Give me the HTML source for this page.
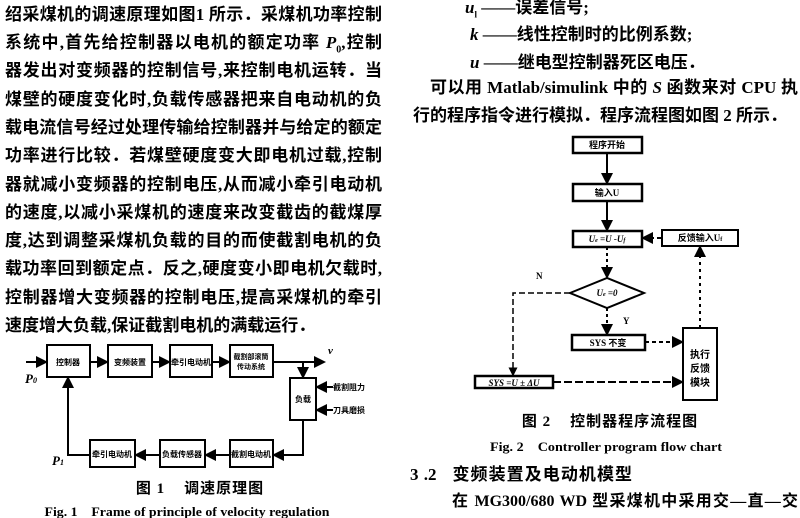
<!DOCTYPE html>
<html><head><meta charset="utf-8"><style>
html,body{margin:0;padding:0;background:#fff;}
body{width:800px;height:518px;position:relative;overflow:hidden;font-family:"Liberation Serif","Noto Serif CJK SC","Noto Sans CJK SC",serif;color:#000;}
.l{position:absolute;left:5px;width:377px;font-size:17px;font-weight:bold;line-height:20px;white-space:nowrap;text-align:justify;text-align-last:justify;font-family:"Liberation Serif","Noto Sans CJK SC",sans-serif;}
.t{position:absolute;font-size:17px;font-weight:bold;line-height:20px;white-space:nowrap;font-family:"Liberation Serif","Noto Sans CJK SC",sans-serif;}
svg{position:absolute;left:0;top:0;}
svg text{font-family:"Liberation Serif","Noto Sans CJK SC",sans-serif;font-weight:bold;}
</style></head><body>
<div class="l" style="top:5px">绍采煤机的调速原理如图1 所示．采煤机功率控制</div>
<div class="l" style="top:33px">系统中,首先给控制器以电机的额定功率 <i>P</i><sub style="font-size:10px">0</sub>,控制</div>
<div class="l" style="top:61px">器发出对变频器的控制信号,来控制电机运转．当</div>
<div class="l" style="top:90px">煤壁的硬度变化时,负载传感器把来自电动机的负</div>
<div class="l" style="top:118px">载电流信号经过处理传输给控制器并与给定的额定</div>
<div class="l" style="top:146px">功率进行比较．若煤壁硬度变大即电机过载,控制</div>
<div class="l" style="top:175px">器就减小变频器的控制电压,从而减小牵引电动机</div>
<div class="l" style="top:203px">的速度,以减小采煤机的速度来改变截齿的截煤厚</div>
<div class="l" style="top:231px">度,达到调整采煤机负载的目的而使截割电机的负</div>
<div class="l" style="top:259px">载功率回到额定点．反之,硬度变小即电机欠载时,</div>
<div class="l" style="top:288px">控制器增大变频器的控制电压,提高采煤机的牵引</div>
<div class="l" style="top:316px;width:303px">速度增大负载,保证截割电机的满载运行．</div>

<div class="t" style="top:-2px;left:465px"><i>u</i><sub style="font-size:9px">l</sub> ——误差信号;</div>
<div class="t" style="top:25px;left:470px"><i>k</i> ——线性控制时的比例系数;</div>
<div class="t" style="top:53px;left:470px"><i>u</i> ——继电型控制器死区电压．</div>
<div class="t" style="top:78px;left:430px;width:368px;text-align:justify;text-align-last:justify">可以用 Matlab/simulink 中的 <i>S</i> 函数来对 CPU 执</div>
<div class="t" style="top:106px;left:413px;width:357px;text-align:justify;text-align-last:justify">行的程序指令进行模拟．程序流程图如图 2 所示．</div>

<div class="t" style="top:465px;left:410px;width:222px;text-align:justify;text-align-last:justify">3 .2 &nbsp; 变频装置及电动机模型</div>
<div class="t" style="top:492px;left:452px;width:346px;text-align:justify;text-align-last:justify;font-size:16px">在 MG300/680 WD 型采煤机中采用交—直—交</div>

<svg width="800" height="518" viewBox="0 0 800 518">
<defs><marker id="a" markerWidth="6" markerHeight="6" refX="5" refY="3" orient="auto"><path d="M0,0L6,3L0,6z" fill="#000"/></marker></defs>
<g stroke="#000" stroke-width="2" fill="none">
<rect x="47" y="345" width="43" height="32"/>
<rect x="108" y="345" width="44" height="32"/>
<rect x="170" y="345" width="42" height="32"/>
<rect x="230" y="345" width="43" height="32"/>
<rect x="290" y="378" width="26" height="42"/>
<rect x="90" y="440" width="45" height="27"/>
<rect x="160" y="440" width="45" height="27"/>
<rect x="230" y="440" width="43" height="27"/>
<path d="M26 362H46" marker-end="url(#a)"/>
<path d="M90 362H107" marker-end="url(#a)"/>
<path d="M152 362H169" marker-end="url(#a)"/>
<path d="M212 362H229" marker-end="url(#a)"/>
<path d="M273 362H324" marker-end="url(#a)"/>
<path d="M303 362V377" marker-end="url(#a)"/>
<path d="M333 387H317" marker-end="url(#a)"/>
<path d="M333 410H317" marker-end="url(#a)"/>
<path d="M303 420V455H274" marker-end="url(#a)"/>
<path d="M230 455H206" marker-end="url(#a)"/>
<path d="M160 455H136" marker-end="url(#a)"/>
<path d="M90 455H68V378" marker-end="url(#a)"/>
<rect x="573" y="137" width="69" height="16" stroke-width="2.5"/>
<rect x="573" y="184" width="69" height="17" stroke-width="2.5"/>
<rect x="573" y="231" width="69" height="16" stroke-width="2.5"/>
<rect x="662" y="230" width="76" height="16"/>
<path d="M570 293L607 278L644 293L607 308Z"/>
<rect x="572" y="335" width="73" height="15" stroke-width="2.5"/>
<rect x="475" y="376" width="78" height="12" stroke-width="2.5"/>
<rect x="683" y="328" width="34" height="72"/>
<path d="M607 153V183" marker-end="url(#a)"/>
<path d="M607 201V230" marker-end="url(#a)"/>
<path d="M607 247V277" stroke-dasharray="3 3" marker-end="url(#a)"/>
<path d="M607 308V334" stroke-dasharray="3 3" marker-end="url(#a)"/>
<path d="M661 238H643" stroke-dasharray="4 3" marker-end="url(#a)"/>
<path d="M570 293H513V375" stroke-dasharray="6 3" stroke-width="1.5" marker-end="url(#a)"/>
<path d="M645 342H682" stroke-dasharray="4 3" marker-end="url(#a)"/>
<path d="M553 382H682" stroke-dasharray="8 3" marker-end="url(#a)"/>
<path d="M700 328V247" stroke-dasharray="3 4" marker-end="url(#a)"/>
</g>
<g font-size="8" text-anchor="middle">
<text x="68" y="365">控制器</text>
<text x="130" y="365">变频装置</text>
<text x="191" y="365">牵引电动机</text>
<text x="251" y="359" font-size="7">截割部滚筒</text><text x="251" y="369" font-size="7">传动系统</text>
<text x="303" y="402">负载</text>
<text x="112" y="457">牵引电动机</text>
<text x="182" y="457">负载传感器</text>
<text x="251" y="457">截割电动机</text>
<text x="349" y="390">截割阻力</text>
<text x="349" y="413">刀具磨损</text>
<text x="607" y="148" font-size="9">程序开始</text>
<text x="607" y="196" font-size="9">输入U</text>
<text x="607" y="242" font-size="9" font-style="italic">U<tspan font-size="6">e</tspan> =U -U<tspan font-size="6">f</tspan></text>
<text x="700" y="241" font-size="9">反馈输入U<tspan font-size="6">f</tspan></text>
<text x="607" y="296" font-size="9" font-style="italic">U<tspan font-size="6">e</tspan> =0</text>
<text x="608" y="346" font-size="9">SYS 不变</text>
<text x="514" y="386" font-size="9" font-style="italic">SYS =U ± ΔU</text>
<text x="700" y="358" font-size="10">执行</text><text x="700" y="372" font-size="10">反馈</text><text x="700" y="386" font-size="10">模块</text>
</g>
<text x="328" y="354" font-size="11" font-style="italic">v</text>
<text x="25" y="383" font-size="13" font-style="italic">P<tspan font-size="8">0</tspan></text>
<text x="52" y="465" font-size="13" font-style="italic">P<tspan font-size="8">1</tspan></text>
<text x="536" y="279" font-size="9">N</text>
<text x="623" y="324" font-size="9">Y</text>
<text x="200" y="493" font-size="15" text-anchor="middle" letter-spacing="1">图 1 &#160;&#160; 调速原理图</text>
<text x="187" y="516" font-size="13" text-anchor="middle" textLength="285" lengthAdjust="spacingAndGlyphs">Fig. 1 &#160;&#160; Frame of principle of velocity regulation</text>
<text x="610" y="426" font-size="15" text-anchor="middle" letter-spacing="1">图 2 &#160;&#160; 控制器程序流程图</text>
<text x="606" y="451" font-size="13" text-anchor="middle" textLength="232" lengthAdjust="spacingAndGlyphs">Fig. 2 &#160;&#160; Controller program flow chart</text>
</svg>
</body></html>
